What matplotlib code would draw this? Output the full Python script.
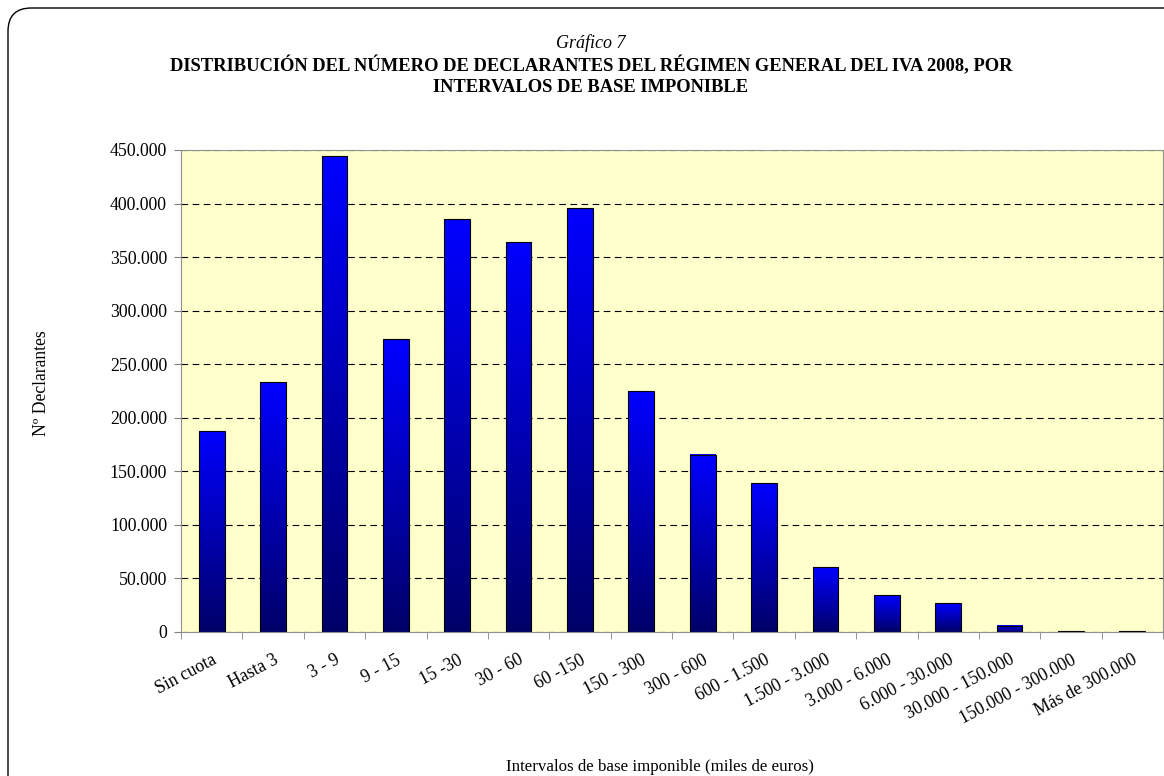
import matplotlib.pyplot as plt
import matplotlib as mpl
import numpy as np
from matplotlib.patches import FancyBboxPatch

plt.rcParams['font.family'] = ['Liberation Serif', 'DejaVu Serif']

categories = ['Sin cuota', 'Hasta 3', '3 - 9', '9 - 15', '15 -30', '30 - 60', '60 -150',
              '150 - 300', '300 - 600', '600 - 1.500', '1.500 - 3.000', '3.000 - 6.000',
              '6.000 - 30.000', '30.000 - 150.000', '150.000 - 300.000', 'Más de 300.000']
declarantes = [187500, 233000, 444000, 273500, 385500, 364000, 395500, 225000,
               165500, 139000, 60500, 34500, 27000, 5800, 900, 800]
yticks = np.arange(0, 450001, 50000)


def fmt(v, pos=None):
    return '{:,.0f}'.format(v).replace(',', '.')


def main():
    fig = plt.figure(figsize=(11.64, 7.76), dpi=100)

    # rounded frame round the chart, open to the right and bottom
    fig.patches.append(FancyBboxPatch((8 / 1164, -0.5), 1.5, 1.5 - 8 / 776,
                                      boxstyle='round,pad=0,rounding_size=0.02',
                                      mutation_aspect=1164 / 776,
                                      transform=fig.transFigure, fill=False,
                                      edgecolor='black', linewidth=1.0))

    ax = fig.add_axes([181 / 1164, 1 - 632 / 776, 982 / 1164, 482 / 776])
    ax.set_facecolor('#FFFFCC')
    x = np.arange(len(categories))
    bars = ax.bar(x, declarantes, width=0.42, color='none', edgecolor='black', linewidth=0.8, zorder=3)

    cmap = mpl.colors.LinearSegmentedColormap.from_list('blues', ['#000068', '#0000FF'])
    grad = np.linspace(0, 1, 256).reshape(-1, 1)
    for b in bars:
        x0, w, h = b.get_x(), b.get_width(), b.get_height()
        ax.imshow(grad, cmap=cmap, origin='lower', aspect='auto', extent=(x0, x0 + w, 0, h), zorder=2)

    ax.set_xlim(-0.5, len(categories) - 0.5)
    ax.set_ylim(0, 450000)
    ax.set_yticks(yticks)
    ax.yaxis.set_major_formatter(mpl.ticker.FuncFormatter(fmt))
    ax.yaxis.grid(True, linestyle=(0, (6, 4)), color='black', linewidth=0.8)
    ax.set_axisbelow(True)

    ax.set_xticks(x)
    ax.set_xticklabels(categories, rotation=28, ha='right', rotation_mode='anchor')
    shift = mpl.transforms.ScaledTranslation(-6 / 100, 0, fig.dpi_scale_trans)
    for lab in ax.get_xticklabels():
        lab.set_transform(lab.get_transform() + shift)
    ax.set_xticks(np.arange(-0.5, len(categories)), minor=True)
    ax.tick_params(axis='x', which='major', length=0, pad=14, labelsize=12.8)
    ax.tick_params(axis='x', which='minor', length=5, color='#808080')
    ax.tick_params(axis='y', length=5, color='#808080', labelsize=12.8, pad=5)
    for s in ax.spines.values():
        s.set_color('#909090')

    fig.text(42 / 1164, 1 - 383 / 776, 'Nº Declarantes', rotation=90,
             ha='center', va='center', fontsize=12.7)
    fig.text(660 / 1164, 1 - 767 / 776, 'Intervalos de base imponible (miles de euros)',
             ha='center', va='center', fontsize=12.2)

    fig.text(591 / 1164, 1 - 43 / 776, 'Gráfico 7', ha='center', va='center',
             fontsize=13, style='italic')
    fig.text(591 / 1164, 1 - 76 / 776,
             'DISTRIBUCIÓN DEL NÚMERO DE DECLARANTES DEL RÉGIMEN GENERAL DEL IVA 2008, POR\nINTERVALOS DE BASE IMPONIBLE',
             ha='center', va='center', fontsize=13.3, fontweight='bold', linespacing=1.3)

    fig.savefig('out.png', dpi=100)


if __name__ == '__main__':
    main()
